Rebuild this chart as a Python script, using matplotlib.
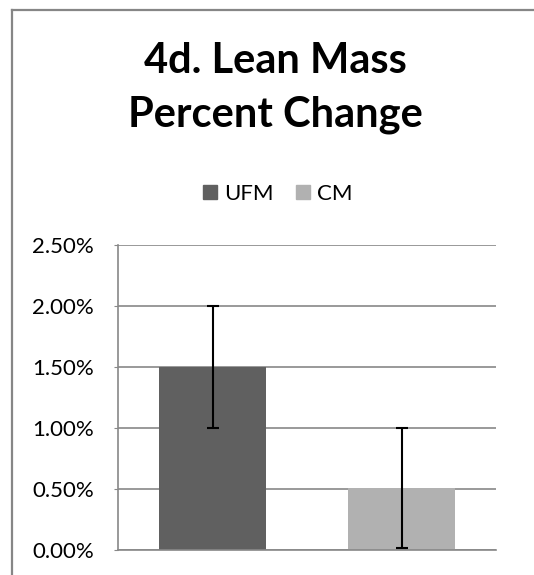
import matplotlib
matplotlib.use('Agg')
import matplotlib.pyplot as plt
import matplotlib.patches as mpatches
from matplotlib.lines import Line2D
from matplotlib.ticker import PercentFormatter

# lean mass percent change by group
GROUPS = ['UFM', 'CM']
PCT_CHANGE = [1.50, 0.51]
PCT_ERR = [0.50, 0.49]
BAR_COLORS = ['#606060', '#b1b1b1']
Y_TICKS = [0.0, 0.5, 1.0, 1.5, 2.0, 2.5]

plt.rcParams['font.family'] = ['Lato', 'DejaVu Sans']

fig = plt.figure(figsize=(5.34, 5.75), dpi=100)
ax = fig.add_axes([0.221, 0.0435, 0.708, 0.5305])

x = range(len(GROUPS))
ax.bar(x, PCT_CHANGE, width=0.567, color=BAR_COLORS, zorder=2)
ax.errorbar(x, PCT_CHANGE, yerr=PCT_ERR, fmt='none', ecolor='black',
            elinewidth=1.5, capsize=4, capthick=1.5, zorder=3)

ax.set_xlim(-0.5, 1.5)
ax.set_ylim(0, 2.5)
ax.set_yticks(Y_TICKS)
ax.yaxis.set_major_formatter(PercentFormatter(decimals=2))
ax.set_xticks([])
ax.grid(axis='y', color='#888888', linewidth=1.2, zorder=0)
for s in ['top', 'right']:
    ax.spines[s].set_visible(False)
for s in ['left', 'bottom']:
    ax.spines[s].set_color('#888888')
    ax.spines[s].set_linewidth(1.2)
ax.tick_params(axis='y', length=3, color='#888888', labelsize=16, pad=14.4)

# title and legend
fig.text(0.515, 0.847, '4d. Lean Mass\nPercent Change', ha='center', va='center',
         fontsize=30, fontweight='bold', linespacing=1.48)
handles = [mpatches.Patch(color=c, label=g) for g, c in zip(GROUPS, BAR_COLORS)]
fig.legend(handles=handles, loc='center', bbox_to_anchor=(0.52, 0.663), ncol=2,
           frameon=False, fontsize=16, handlelength=0.65, handleheight=0.65,
           handletextpad=0.3, columnspacing=1.0)

# chart border
fig.add_artist(Line2D([12 / 534, 12 / 534], [0, 1 - 10 / 575], color='#868686',
                      linewidth=1.6, transform=fig.transFigure))
fig.add_artist(Line2D([12 / 534, 1], [1 - 10 / 575, 1 - 10 / 575], color='#868686',
                      linewidth=1.6, transform=fig.transFigure))

plt.savefig('out.png', dpi=100)
